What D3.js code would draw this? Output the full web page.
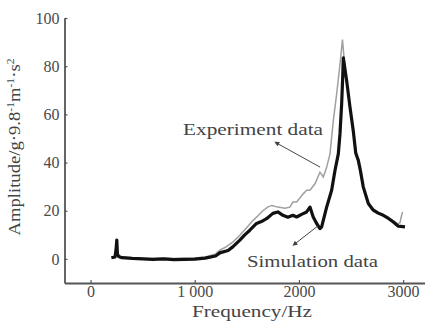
<!DOCTYPE html>
<html>
<head>
<meta charset="utf-8">
<script src="https://d3js.org/d3.v7.min.js"></script>
<style>
  body { margin: 0; background: #fff; }
  #plot { width: 425px; height: 325px; }
  text { font-family: "Liberation Serif", "Times New Roman", serif; }
</style>
</head>
<body>
<div id="plot"></div>
<script>
// tick values
var yTicks = [0, 20, 40, 60, 80, 100];
var xTicks = [0, 1000, 2000, 3000];
var xTickLabels = ["0", "1 000", "2000", "3000"];

// simulation data (thick black)
var simFreq = [200, 235, 245, 252, 258, 270, 300, 400, 500, 600, 700, 800, 900, 1000, 1100, 1200, 1240, 1320, 1365, 1433, 1480, 1529, 1593, 1640, 1689, 1750, 1798, 1846, 1894, 1942, 1978, 2030, 2074, 2106, 2137, 2170, 2202, 2218, 2266, 2314, 2346, 2378, 2394, 2410, 2420, 2426, 2458, 2490, 2522, 2545, 2570, 2590, 2618, 2666, 2714, 2760, 2810, 2860, 2906, 2954, 3018];
var simAmp  = [0.5, 0.8, 4, 7.8, 2, 1, 0.5, 0.2, 0, -0.2, 0, -0.3, -0.2, -0.1, 0.3, 1.2, 2.5, 3.5, 5, 7.8, 10, 11.9, 14.7, 15.5, 16.7, 18.9, 19.5, 18.1, 17.3, 18.1, 17.4, 18.6, 19.5, 21.5, 17.4, 14.7, 12.6, 13.3, 21.5, 28.5, 36.7, 43.6, 51.9, 64.3, 75.3, 83.5, 74, 63, 53, 44, 40.9, 36.7, 29.8, 23, 20.2, 19, 18.1, 16.8, 15.3, 13.6, 13.3];

// experiment data (thin grey)
var expFreq = [200, 235, 245, 252, 258, 270, 300, 400, 500, 600, 700, 800, 900, 1000, 1100, 1200, 1240, 1300, 1365, 1433, 1500, 1560, 1610, 1654, 1700, 1738, 1798, 1865, 1913, 1942, 1978, 2041, 2074, 2106, 2154, 2202, 2234, 2266, 2298, 2330, 2362, 2394, 2418, 2440, 2470, 2500, 2530, 2560, 2600, 2640, 2680, 2720, 2800, 2900, 2950, 2970, 2985, 2995];
var expAmp  = [0.8, 1, 4, 7.5, 2, 1.2, 0.8, 0.5, 0.3, 0.2, 0.3, 0.2, 0.3, 0.4, 0.8, 2, 3.6, 5, 7, 9.8, 13, 16, 18, 20, 21.5, 22.2, 21.5, 21, 21.5, 23.6, 23.6, 27, 28.5, 28.5, 31.2, 36, 34, 38, 43.6, 57.4, 68.4, 80.8, 91, 80, 70, 60, 50, 42, 33, 26, 22, 20.5, 18.5, 16, 14.5, 15, 18, 19.5];

// annotations, in data units
var annoLabels = ["Experiment data", "Simulation data"];
var annoText = [[888, 51.4], [1502, -3.2]];
var annoArrow = [[[1802, 47.7], [2203, 38.1]], [[1972, 6.6], [2183, 13.7]]];

var view = {
    layout: { w: 425, h: 325, left: 64.5, right: 425, top: 18, bottom: 283 }
};

var svg = d3.select("#plot")
            .append("svg")
            .attr("width", view.layout.w)
            .attr("height", view.layout.h);

var xScale = d3.scaleLinear()
            .domain([-250, 3210])
            .range([view.layout.left, view.layout.right]),
    yScale = d3.scaleLinear()
            .domain([-10, 100])
            .range([view.layout.bottom, view.layout.top]);

svg.append("defs").append("marker")
    .attr("id", "head")
    .attr("viewBox", "0 0 10 10")
    .attr("refX", 1)
    .attr("refY", 5)
    .attr("markerWidth", 6)
    .attr("markerHeight", 5)
    .attr("markerUnits", "userSpaceOnUse")
    .attr("orient", "auto-start-reverse")
    .append("path")
    .attr("d", "M0,0L10,5L0,10z")
    .style("fill", "#444");

// axes
var g_yaxis = svg.append("g")
        .attr("transform", "translate(" + view.layout.left + ",0)")
        .call(d3.axisLeft(yScale).tickValues(yTicks).tickSizeInner(-3).tickSizeOuter(0).tickPadding(5));
var g_xaxis = svg.append("g")
        .attr("transform", "translate(0," + view.layout.bottom + ")")
        .call(d3.axisBottom(xScale).tickValues(xTicks).tickSizeInner(-3).tickSizeOuter(0).tickPadding(3)
              .tickFormat(function(d, i){ return xTickLabels[i]; }));

svg.selectAll(".domain")
    .style("stroke", "#555")
    .style("stroke-width", 1.8);
svg.selectAll(".tick line")
    .style("stroke", "#555")
    .style("stroke-width", 1.2);
svg.selectAll(".tick text")
    .style("font-family", "'Liberation Serif', serif")
    .style("font-size", "16px")
    .style("fill", "#4a4a4a");

// curves
var line = d3.line()
        .x(function(d){ return xScale(d[0]); })
        .y(function(d){ return yScale(d[1]); });

var expData = expFreq.map(function(f, i){ return [f, expAmp[i]]; }),
    simData = simFreq.map(function(f, i){ return [f, simAmp[i]]; });

svg.append("path")
    .datum(expData)
    .attr("d", line)
    .style("fill", "none")
    .style("stroke", "#a0a0a0")
    .style("stroke-width", 1.5);

svg.append("path")
    .datum(simData)
    .attr("d", line)
    .style("fill", "none")
    .style("stroke", "#111")
    .style("stroke-width", 3.2)
    .style("stroke-linejoin", "round");

// annotation arrows and labels
svg.selectAll(".arrow")
    .data(annoArrow)
    .enter().append("line")
    .attr("class", "arrow")
    .attr("x1", function(d){ return xScale(d[0][0]); })
    .attr("y1", function(d){ return yScale(d[0][1]); })
    .attr("x2", function(d){ return xScale(d[1][0]); })
    .attr("y2", function(d){ return yScale(d[1][1]); })
    .attr("marker-start", "url(#head)")
    .style("stroke", "#444")
    .style("stroke-width", 1);

svg.selectAll(".anno")
    .data(annoLabels)
    .enter().append("text")
    .attr("class", "anno")
    .attr("x", function(d, i){ return xScale(annoText[i][0]); })
    .attr("y", function(d, i){ return yScale(annoText[i][1]); })
    .attr("textLength", function(d, i){ return i === 0 ? 140 : 131; })
    .attr("lengthAdjust", "spacingAndGlyphs")
    .style("font-size", "17px")
    .style("fill", "#444")
    .text(function(d){ return d; });

// axis titles
svg.append("text")
    .attr("x", 252)
    .attr("y", 317)
    .attr("text-anchor", "middle")
    .attr("textLength", 120)
    .attr("lengthAdjust", "spacingAndGlyphs")
    .style("font-size", "16px")
    .style("fill", "#444")
    .text("Frequency/Hz");

var ylab = svg.append("text")
    .attr("transform", "translate(20,147) rotate(-90)")
    .attr("text-anchor", "middle")
    .attr("textLength", 177)
    .attr("lengthAdjust", "spacingAndGlyphs")
    .style("font-size", "16px")
    .style("fill", "#444");
ylab.append("tspan").text("Amplitude/g·9.8");
ylab.append("tspan").attr("dy", -6).style("font-size", "10px").text("-1");
ylab.append("tspan").attr("dy", 6).text("m");
ylab.append("tspan").attr("dy", -6).style("font-size", "10px").text("-1");
ylab.append("tspan").attr("dy", 6).text("·s");
ylab.append("tspan").attr("dy", -6).style("font-size", "10px").text("2");
</script>
</body>
</html>
